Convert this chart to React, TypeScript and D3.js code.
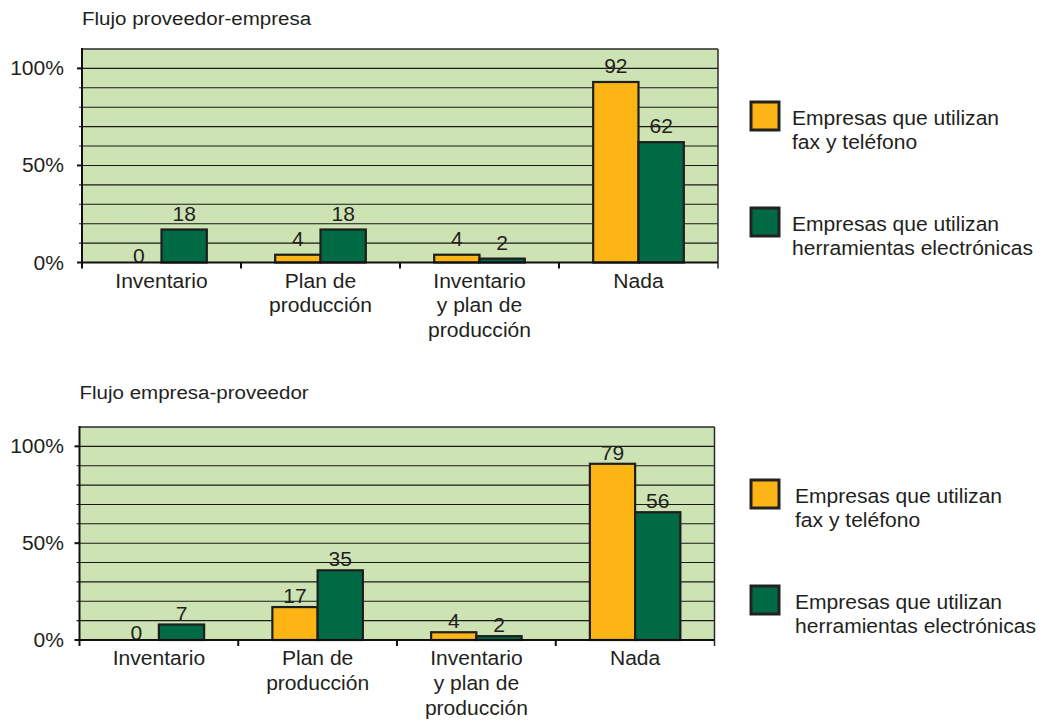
import React from "react";
import * as d3 from "d3";

const categories: string[][] = [
  ["Inventario"],
  ["Plan de", "producción"],
  ["Inventario", "y plan de", "producción"],
  ["Nada"],
];
const seriesNames = ["fax", "elec"];
const legendLines: string[][] = [
  ["Empresas que utilizan", "fax y teléfono"],
  ["Empresas que utilizan", "herramientas electrónicas"],
];

// Panel 1: Flujo proveedor-empresa
const topTitle = "Flujo proveedor-empresa";
const topFaxHeights = [0, 4, 4, 93];
const topElecHeights = [17, 17, 2, 62];
const topFaxLabels = [0, 4, 4, 92];
const topElecLabels = [18, 18, 2, 62];

// Panel 2: Flujo empresa-proveedor
const bottomTitle = "Flujo empresa-proveedor";
const bottomFaxHeights = [0, 17, 4, 91];
const bottomElecHeights = [8, 36, 2, 66];
const bottomFaxLabels = [0, 17, 4, 79];
const bottomElecLabels = [7, 35, 2, 56];

const yTickLabels = [0, 50, 100];
const yGridValues = [10, 20, 30, 40, 50, 60, 70, 80, 90, 100];

const COLORS: Record<string, string> = { fax: "#fdb515", elec: "#006a44" };
const BG = "#cde3b4";
const FONT = "'Liberation Sans', Arial, sans-serif";
const FS = 19.5;
const SX = 1.08;

function T({ x, y, anchor = "start", children, size = FS }: any) {
  return (
    <text
      transform={`translate(${x},${y}) scale(${SX},1)`}
      textAnchor={anchor}
      fontFamily={FONT}
      fontSize={size}
      fill="#231f20"
    >
      {children}
    </text>
  );
}

type PanelProps = {
  title: string;
  faxH: number[];
  elecH: number[];
  faxL: number[];
  elecL: number[];
  left: number;
  right: number;
  top: number;
  bottom: number;
  titleY: number;
  legendY: number;
  legendTextX: number;
  labelGap: number;
};

function Panel(p: PanelProps) {
  const y = d3.scaleLinear().domain([0, 110]).range([p.bottom, p.top]);
  const x0 = d3
    .scaleBand<number>()
    .domain(categories.map((_, i) => i))
    .range([p.left, p.right])
    .paddingInner(0)
    .paddingOuter(0);
  const step = x0.bandwidth();
  const groupW = step * 0.57;
  const x1 = d3
    .scaleBand<string>()
    .domain(seriesNames)
    .range([(step - groupW) / 2, (step + groupW) / 2]);
  const heights: Record<string, number[]> = { fax: p.faxH, elec: p.elecH };
  const labels: Record<string, number[]> = { fax: p.faxL, elec: p.elecL };

  return (
    <g>
      <T x={p.left} y={p.titleY} size={19}>
        {p.title}
      </T>
      <rect x={p.left} y={p.top} width={p.right - p.left} height={p.bottom - p.top} fill={BG} />
      {yGridValues.map((v) => (
        <line
          key={v}
          x1={p.left - 3}
          x2={p.right}
          y1={y(v)}
          y2={y(v)}
          stroke="#1a1a1a"
          strokeWidth={1.1}
        />
      ))}
      {yTickLabels.map((v) => (
        <g key={v}>
          <line x1={p.left - 5} x2={p.left} y1={y(v)} y2={y(v)} stroke="#111" strokeWidth={2} />
          <T x={64} y={y(v) + 7} anchor="end">
            {`${v}%`}
          </T>
        </g>
      ))}
      {/* top and right border */}
      <line x1={p.left} x2={p.right} y1={p.top} y2={p.top} stroke="#2a2a2a" strokeWidth={1.5} />
      <line x1={p.right} x2={p.right} y1={p.top} y2={p.bottom + 6} stroke="#2a2a2a" strokeWidth={1.5} />
      {/* bars */}
      {categories.map((_, i) =>
        seriesNames.map((s) => {
          const h = heights[s][i];
          const bx = (x0(i) as number) + (x1(s) as number);
          return h > 0 ? (
            <rect
              key={`${i}-${s}`}
              x={bx}
              y={y(h)}
              width={x1.bandwidth()}
              height={y(0) - y(h)}
              fill={COLORS[s]}
              stroke="#1e1e1e"
              strokeWidth={2.2}
            />
          ) : null;
        })
      )}
      {/* value labels */}
      {categories.map((_, i) =>
        seriesNames.map((s) => {
          const bx = (x0(i) as number) + (x1(s) as number) + x1.bandwidth() / 2;
          const h = heights[s][i];
          return (
            <T key={`l-${i}-${s}`} x={bx} y={y(h) - (h > 0 ? p.labelGap : 0)} anchor="middle">
              {String(labels[s][i])}
            </T>
          );
        })
      )}
      {/* axes */}
      <line x1={p.left} x2={p.right} y1={y(0)} y2={y(0)} stroke="#111" strokeWidth={2} />
      <line x1={p.left} x2={p.left} y1={p.top - 1} y2={y(0) + 6} stroke="#111" strokeWidth={2} />
      {categories.map((_, i) =>
        i > 0 ? (
          <line
            key={`t${i}`}
            x1={x0(i) as number}
            x2={x0(i) as number}
            y1={y(0)}
            y2={y(0) + 6}
            stroke="#111"
            strokeWidth={2}
          />
        ) : null
      )}
      {categories.map((lines, i) =>
        lines.map((ln, j) => (
          <T
            key={`c${i}-${j}`}
            x={(x0(i) as number) + step / 2}
            y={y(0) + 25 + j * 24.8}
            anchor="middle"
          >
            {ln}
          </T>
        ))
      )}
      {/* legend */}
      {seriesNames.map((s, k) => {
        const ly = p.legendY + k * 106;
        return (
          <g key={`lg${s}`}>
            <rect x={751} y={ly} width={28} height={28} fill={COLORS[s]} stroke="#222" strokeWidth={3} />
            {legendLines[k].map((ln, j) => (
              <T key={j} x={p.legendTextX} y={ly + 22.5 + j * 24} anchor="start">
                {ln}
              </T>
            ))}
          </g>
        );
      })}
    </g>
  );
}

export default function App() {
  return (
    <svg
      width={1047}
      height={722}
      style={{ position: "absolute", left: 0, top: 0, background: "#fff" }}
    >
      <rect x={0} y={0} width={1047} height={722} fill="#fff" />
      <Panel
        title={topTitle}
        faxH={topFaxHeights}
        elecH={topElecHeights}
        faxL={topFaxLabels}
        elecL={topElecLabels}
        left={82}
        right={718}
        top={49}
        bottom={262.5}
        titleY={25}
        legendY={102}
        legendTextX={792}
        labelGap={9}
      />
      <Panel
        title={bottomTitle}
        faxH={bottomFaxHeights}
        elecH={bottomElecHeights}
        faxL={bottomFaxLabels}
        elecL={bottomElecLabels}
        left={79.5}
        right={714.5}
        top={427}
        bottom={640}
        titleY={399}
        legendY={480}
        legendTextX={795}
        labelGap={4}
      />
    </svg>
  );
}
